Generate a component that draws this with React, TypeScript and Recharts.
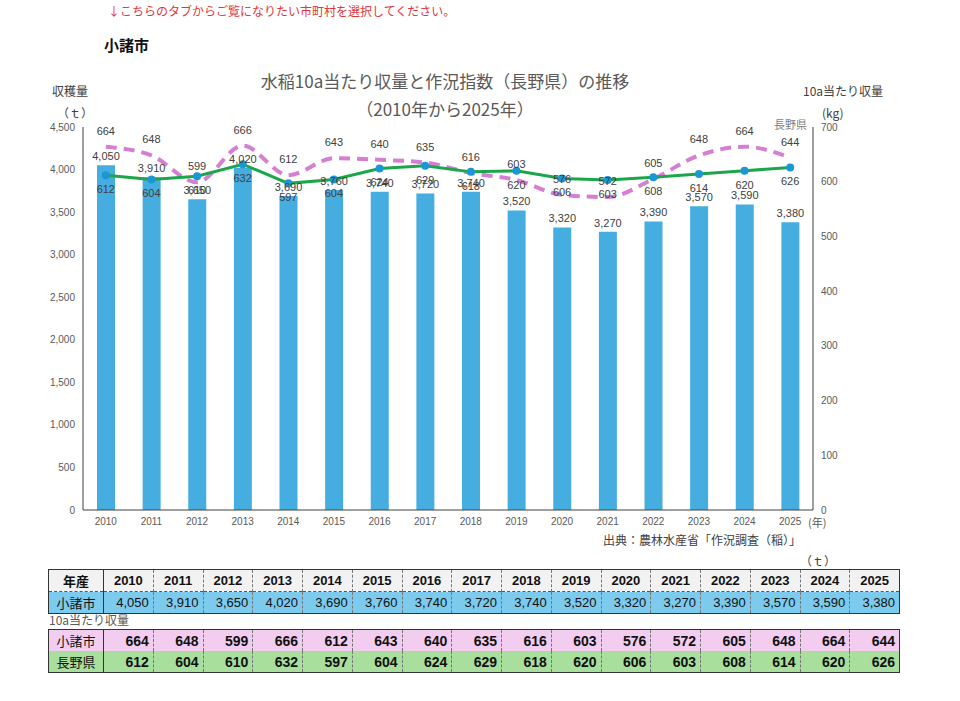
import React from 'react';
import { ComposedChart, Bar, Line, XAxis, YAxis, LabelList } from 'recharts';

// 年産
const years = ['2010', '2011', '2012', '2013', '2014', '2015', '2016', '2017', '2018', '2019', '2020', '2021', '2022', '2023', '2024', '2025'];
// 小諸市 収穫量 (t)
const harvest = [4050, 3910, 3650, 4020, 3690, 3760, 3740, 3720, 3740, 3520, 3320, 3270, 3390, 3570, 3590, 3380];
// 10a当たり収量 (kg)
const komoroYield = [664, 648, 599, 666, 612, 643, 640, 635, 616, 603, 576, 572, 605, 648, 664, 644];
const naganoYield = [612, 604, 610, 632, 597, 604, 624, 629, 618, 620, 606, 603, 608, 614, 620, 626];

const leftTicks = [0, 500, 1000, 1500, 2000, 2500, 3000, 3500, 4000, 4500];
const rightTicks = [0, 100, 200, 300, 400, 500, 600, 700];

const data = years.map((y, i) => ({
  year: y,
  harvest: harvest[i],
  komoro: komoroYield[i],
  nagano: naganoYield[i],
}));

const JP = '"Noto Sans CJK JP", "Noto Sans", sans-serif';
const NUM = '"Liberation Sans", Arial, sans-serif';
const fmt = (v: number) => v.toLocaleString('en-US');

const abs = (left: number, top: number, extra: React.CSSProperties = {}): React.CSSProperties => ({
  position: 'absolute', left, top, whiteSpace: 'nowrap', lineHeight: 1, ...extra,
});

const cellBase: React.CSSProperties = {
  height: 21, padding: '0 4px 0 0', borderLeft: '1px dashed #777', fontFamily: NUM,
};

const YieldRow = ({ name, values, bg }: { name: string; values: number[]; bg: string }) => (
  <tr style={{ background: bg }}>
    <td style={{ ...cellBase, borderLeft: 'none', borderRight: '1px solid #333', textAlign: 'center', padding: 0, fontFamily: JP, fontSize: 13 }}>{name}</td>
    {values.map((v, i) => (
      <td key={i} style={{ ...cellBase, borderLeft: i === 0 ? 'none' : cellBase.borderLeft, textAlign: 'right', fontWeight: 700, fontSize: 14 }}>{v}</td>
    ))}
  </tr>
);

export default function App() {
  return (
    <div style={{ position: 'absolute', left: 0, top: 0, width: 960, height: 701, background: '#fff', fontFamily: JP }}>
      <div style={abs(108, 5, { color: '#e0363c', fontSize: 12 })}>↓こちらのタブからご覧になりたい市町村を選択してください。</div>
      <div style={abs(104, 37, { color: '#111', fontSize: 15, fontWeight: 700 })}>小諸市</div>

      <div style={abs(0, 72, { width: 890, textAlign: 'center', color: '#595959', fontSize: 17 })}>水稲10a当たり収量と作況指数（長野県）の推移</div>
      <div style={abs(0, 100, { width: 890, textAlign: 'center', color: '#595959', fontSize: 17 })}>（2010年から2025年）</div>

      <div style={abs(52, 85, { color: '#404040', fontSize: 12 })}>収穫量</div>
      <div style={abs(57, 107, { color: '#404040', fontSize: 12 })}>（ｔ）</div>
      <div style={abs(803, 85, { color: '#404040', fontSize: 12 })}>10a当たり収量</div>
      <div style={abs(822, 107, { color: '#404040', fontSize: 12 })}>(kg)</div>
      <div style={abs(774, 119, { color: '#7f7f7f', fontSize: 11 })}>長野県</div>

      <div style={{ position: 'absolute', left: 0, top: 0 }}>
        <ComposedChart width={960} height={540} data={data} margin={{ top: 127, right: 107, bottom: 0, left: 43 }}>
          <XAxis dataKey="year" tickLine={false} axisLine={{ stroke: '#404040' }} height={30}
            tick={{ fill: '#595959', fontSize: 10, fontFamily: NUM }} interval={0} />
          <YAxis yAxisId="left" domain={[0, 4500]} ticks={leftTicks} tickFormatter={fmt} width={40}
            tickLine={false} axisLine={{ stroke: '#404040' }} tick={{ fill: '#595959', fontSize: 10, fontFamily: NUM }} />
          <YAxis yAxisId="right" orientation="right" domain={[0, 700]} ticks={rightTicks} width={40}
            tickLine={false} axisLine={{ stroke: '#404040' }} tick={{ fill: '#595959', fontSize: 10, fontFamily: NUM }} />
          <Bar yAxisId="left" dataKey="harvest" fill="#46ade0" barSize={18} isAnimationActive={false}>
            <LabelList dataKey="harvest" position="top" offset={5} formatter={(v: any) => fmt(Number(v))}
              style={{ fill: '#404040', fontSize: 11, fontFamily: NUM }} />
          </Bar>
          <Line yAxisId="right" type="monotone" dataKey="komoro" stroke="#d67fd2" strokeWidth={4}
            strokeDasharray="11 7" dot={false} isAnimationActive={false}>
            <LabelList dataKey="komoro" position="top" offset={12} style={{ fill: '#404040', fontSize: 11, fontFamily: NUM }} />
          </Line>
          <Line yAxisId="right" type="linear" dataKey="nagano" stroke="#1ca64c" strokeWidth={3}
            dot={{ r: 4, fill: '#1c97d5', stroke: 'none' }} isAnimationActive={false}>
            <LabelList dataKey="nagano" position="bottom" offset={10} style={{ fill: '#404040', fontSize: 11, fontFamily: NUM }} />
          </Line>
        </ComposedChart>
      </div>

      <div style={abs(808, 517, { color: '#595959', fontSize: 11 })}>(年)</div>
      <div style={abs(603, 534, { color: '#404040', fontSize: 12 })}>出典：農林水産省「作況調査（稲）」</div>
      <div style={abs(800, 555, { color: '#404040', fontSize: 12 })}>（ｔ）</div>

      <table style={{ position: 'absolute', left: 48, top: 569, width: 852, borderCollapse: 'collapse', tableLayout: 'fixed', border: '1px solid #333', color: '#111' }}>
        <colgroup>
          <col style={{ width: 55 }} />
          {years.map((y) => <col key={y} />)}
        </colgroup>
        <tbody>
          <tr style={{ background: '#f2f2f2', borderBottom: '1px dashed #555' }}>
            <td style={{ ...cellBase, borderLeft: 'none', borderRight: '1px solid #333', textAlign: 'center', padding: 0, fontFamily: JP, fontSize: 13, fontWeight: 700 }}>年産</td>
            {years.map((y, i) => (
              <td key={y} style={{ ...cellBase, borderLeft: i === 0 ? 'none' : cellBase.borderLeft, textAlign: 'center', padding: 0, fontWeight: 700, fontSize: 13 }}>{y}</td>
            ))}
          </tr>
          <tr style={{ background: '#7ccaee' }}>
            <td style={{ ...cellBase, borderLeft: 'none', borderRight: '1px solid #333', textAlign: 'center', padding: 0, fontFamily: JP, fontSize: 13 }}>小諸市</td>
            {harvest.map((v, i) => (
              <td key={i} style={{ ...cellBase, borderLeft: i === 0 ? 'none' : cellBase.borderLeft, textAlign: 'right', fontSize: 13 }}>{fmt(v)}</td>
            ))}
          </tr>
        </tbody>
      </table>

      <div style={abs(49, 614, { color: '#595959', fontSize: 12 })}>10a当たり収量</div>

      <table style={{ position: 'absolute', left: 48, top: 629, width: 852, borderCollapse: 'collapse', tableLayout: 'fixed', border: '1px solid #333', color: '#111' }}>
        <colgroup>
          <col style={{ width: 55 }} />
          {years.map((y) => <col key={y} />)}
        </colgroup>
        <tbody>
          <YieldRow name="小諸市" values={komoroYield} bg="#f2cdf0" />
          <YieldRow name="長野県" values={naganoYield} bg="#a9df9c" />
        </tbody>
      </table>
    </div>
  );
}
